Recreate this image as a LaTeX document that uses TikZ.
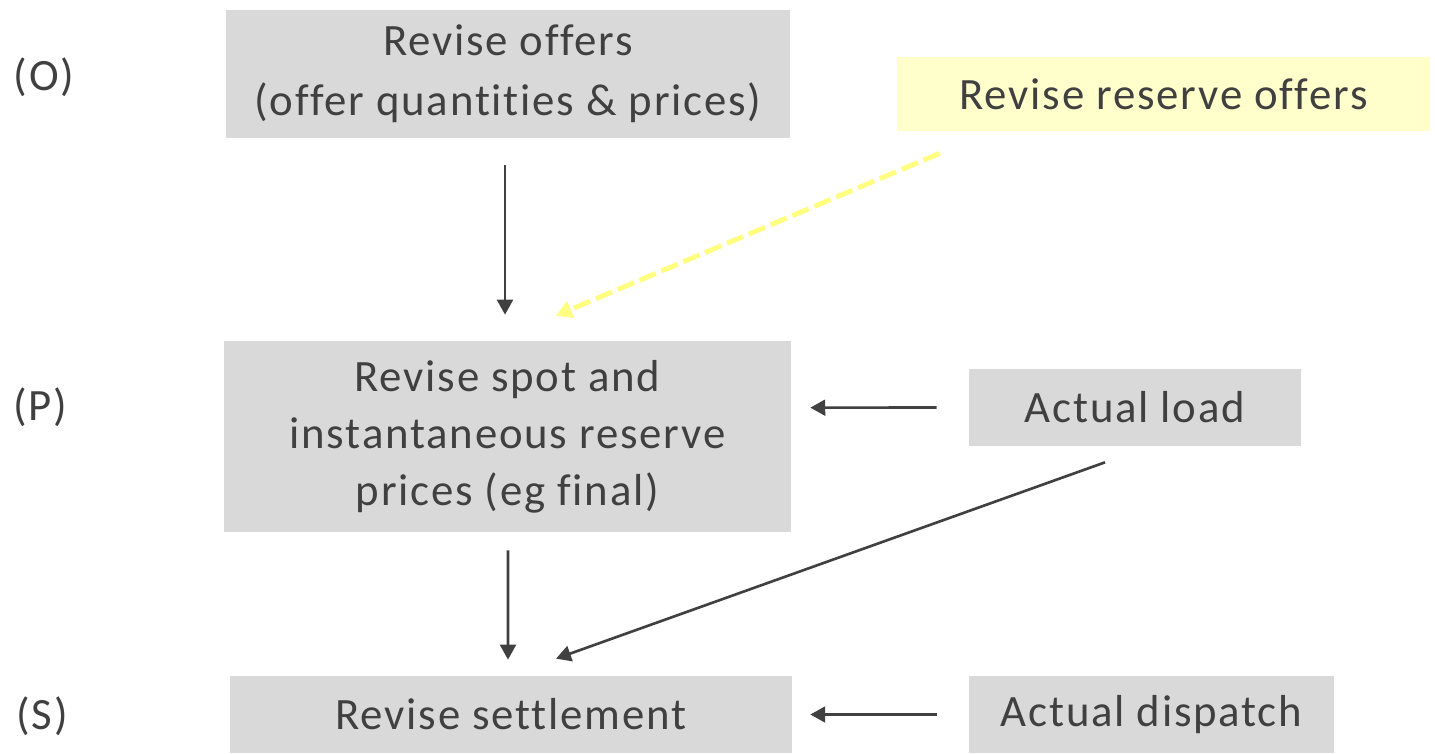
\documentclass[tikz,border=0pt]{standalone}
\usepackage{fontspec}
\setmainfont[Ligatures={NoCommon},LetterSpace=4]{Carlito}
\usetikzlibrary{arrows.meta}
\definecolor{boxgray}{HTML}{D9D9D9}
\definecolor{boxyellow}{HTML}{FFFFCC}
\definecolor{txtgray}{HTML}{404040}
\definecolor{lineyellow}{HTML}{FFFF80}
\begin{document}
\begin{tikzpicture}[x=0.02cm,y=-0.02cm,
  every node/.style={font=\fontsize{25.5}{32.4}\selectfont, text=txtgray},
  stepbox/.style={fill=boxgray, inner sep=0pt, align=center},
  notebox/.style={fill=boxyellow, inner sep=0pt, align=center},
  tag/.style={inner sep=0pt},
  arr/.style={draw=txtgray, line width=1.5pt, -{Triangle[length=8.5pt,width=9pt]}},
  yarr/.style={draw=lineyellow, line width=2.8pt, dash pattern=on 10pt off 3.5pt,
    -{Triangle[length=9pt,width=10pt]}},
]
\path[use as bounding box] (0,0) rectangle (1435,753);

% boxes
\node[stepbox, minimum width=11.28cm, minimum height=2.58cm,
  font=\fontsize{25.5}{34.2}\selectfont] (offers) at (508,74)
  {Revise offers\\(offer quantities \& prices)};
\node[notebox, minimum width=10.66cm, minimum height=1.48cm] (reserve) at (1163.5,94)
  {Revise reserve offers};
\node[stepbox, minimum width=11.34cm, minimum height=3.82cm] (prices) at (507.5,436.5)
  {Revise spot and\\instantaneous reserve\\prices (eg final)};
\node[stepbox, minimum width=6.64cm, minimum height=1.54cm] (load) at (1135,407.5)
  {Actual load};
\node[stepbox, minimum width=11.24cm, minimum height=1.54cm] (settle) at (511,714.5)
  {Revise settlement};
\node[stepbox, minimum width=7.3cm, minimum height=1.54cm] (dispatch) at (1151.5,714.5)
  {Actual dispatch};

% stage labels
\node[tag] (tagO) at (44,77) {(O)};
\node[tag] (tagP) at (40,407) {(P)};
\node[tag] (tagS) at (42,716) {(S)};

% connectors
\draw[arr] ([shift={(-3,26.5)}]offers.south) -- ([shift={(-2.5,-26)}]prices.north);
\draw[yarr] ([shift={(43,22)}]reserve.south west) -- ([shift={(48.5,-25)}]prices.north);
\draw[arr] ([shift={(-32,0)}]load.west) -- ([shift={(19,67)}]prices.north east);
\draw[arr] ([shift={(0.5,18)}]prices.south) -- ([shift={(-3,-16)}]settle.north);
\draw[arr] ([shift={(-30,16)}]load.south) -- ([shift={(45,-17)}]settle.north);
\draw[arr] ([shift={(-32,0)}]dispatch.west) -- ([shift={(18,0)}]settle.east);
\end{tikzpicture}
\end{document}
